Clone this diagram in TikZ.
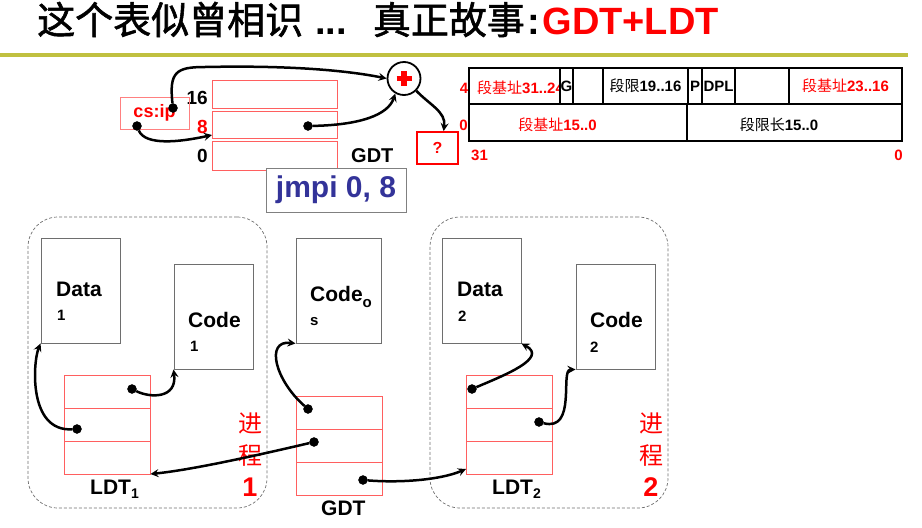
\documentclass[tikz,border=0pt]{standalone}
\usepackage{fontspec}
\setmainfont{Liberation Sans}
\newfontfamily\cjk{Noto Sans CJK SC}
\newfontfamily\cjkhead[FakeBold=1.5]{Noto Sans CJK SC}
\usetikzlibrary{arrows,calc,positioning}
\definecolor{rulecol}{RGB}{192,192,64}
\definecolor{slotred}{RGB}{255,95,95}
\definecolor{boxred}{RGB}{255,128,128}
\definecolor{memgray}{RGB}{110,110,110}
\definecolor{jmpblue}{RGB}{51,51,153}
\newcommand{\fsz}[1]{\fontsize{#1}{#1}\selectfont}
\newcommand{\seg}[2]{{\cjk #1}\textbf{#2}}

\begin{document}
\begin{tikzpicture}
      [x = 1pt, y = -1pt,
      link/.style = {-stealth, line width = 2.5pt},
      dot/.style = {
         draw,
         fill = black,
         circle,
         inner sep = 0pt,
         minimum size = 9pt
      },
      slot/.style = {
         draw = slotred,
         line width = 1pt,
         inner sep = 0pt,
         outer sep = 0pt,
         minimum width = 86pt,
         minimum height = 33pt
      },
      mem/.style = {
         draw = memgray,
         line width = 0.9pt,
         inner sep = 0pt,
         minimum width = 79pt,
         minimum height = 105pt
      },
      memtxt/.style = {anchor = base west, inner sep = 0pt, font = \bfseries\fsz{21}},
      subtxt/.style = {anchor = base west, inner sep = 0pt, font = \bfseries\fsz{15}},
      proc/.style = {
         draw = memgray,
         line width = 0.7pt,
         dash pattern = on 3pt off 2pt,
         rounded corners = 30pt,
         minimum width = 239pt,
         minimum height = 291pt
      },
      proctxt/.style = {text = red, align = center, font = \cjk\fontsize{24}{32}\selectfont},
      cell/.style = {
         draw,
         fill = white,
         line width = 1.8pt,
         inner sep = 0pt,
         outer sep = 0pt,
         minimum height = 36pt,
         font = \fsz{15}
      },
      num/.style = {text = red, inner sep = 0pt, font = \bfseries\fsz{15}}]

      \useasboundingbox (0, 0) rectangle (922, 528);

      % title
      \node[anchor = base west, inner sep = 0pt, font = \fsz{38}] (title) at (37, 34)
         {{\cjkhead 这个表似曾相识}\hspace{12pt}\textbf{...}\hspace{26pt}{\cjkhead 真正故事}\hspace{3pt}\textbf{:}\hspace{2pt}{\color{red}\bfseries GDT+LDT}};
      \fill[rulecol] (0, 53) rectangle (908, 57);

      % descriptor
      \node[cell, minimum width = 91pt] (base3) at (514.5, 86) {};
      \node[anchor = west, inner sep = 0pt, text = red, font = \fsz{15}] (base3t) at (477, 88) {\seg{段基址}{31..24}};
      \foreach \xa/\xb/\txt in {560/573/\textbf{G}, 573/603/, 603/688/\seg{段限}{19..16},
            688/702/\textbf{P}, 702/735/\textbf{DPL}, 735/789/, 789/902/{\color{red}\seg{段基址}{23..16}}}
         \node[cell, minimum width = {(\xb-\xa)*1pt}] (hi\xa) at ({(\xa+\xb)/2}, 86) {\txt};
      \node[cell, minimum width = 218pt, minimum height = 37pt] (base1) at (578, 122.5) {};
      \node[cell, minimum width = 215pt, minimum height = 37pt] (lim1) at (794.5, 122.5) {};
      \node[inner sep = 0pt, text = red, font = \fsz{15}] (base1t) at (557.5, 125) {\seg{段基址}{15..0}};
      \node[inner sep = 0pt, font = \fsz{15}] (lim1t) at (779, 125) {\seg{段限长}{15..0}};
      \node[num] (w4) at (464, 88) {4};
      \node[num] (w0) at (463.5, 125) {0};
      \node[num] (b31) at (479.5, 155.5) {31};
      \node[num] (b0) at (898.5, 155.5) {0};

      % gdt (top)
      \node[slot, minimum width = 125pt, minimum height = 28pt] (g16) at (274.5, 94) {};
      \node[slot, minimum width = 125pt, minimum height = 27pt, below = 3pt of g16] (g8) {};
      \node[slot, minimum width = 125pt, minimum height = 29pt, below = 3pt of g8] (g0) {};
      \node[anchor = base east, inner sep = 0pt, font = \bfseries\fsz{19}] (i16) at (208, 104) {16};
      \node[anchor = base east, inner sep = 0pt, text = red, font = \bfseries\fsz{19}] (i8) at (208, 133) {8};
      \node[anchor = base east, inner sep = 0pt, font = \bfseries\fsz{19}] (i0) at (208, 162) {0};
      \node[anchor = base west, inner sep = 0pt, font = \bfseries\fsz{20}] (gdttop) at (351, 162) {GDT};

      \node[draw = boxred, line width = 0.9pt, minimum width = 69pt, minimum height = 32pt,
         text = red, font = \bfseries\fsz{18}] (csip) at (154.5, 113) {cs:ip};
      \node[draw, circle, line width = 1.8pt, minimum size = 33pt] (add) at (404, 78.5) {};
      \draw[red, line width = 5.5pt] ($(add.center)+(-7.5,0)$) -- ($(add.center)+(7.5,0)$);
      \draw[red, line width = 5.5pt] ($(add.center)+(0,-7.5)$) -- ($(add.center)+(0,7.5)$);
      \node[draw = red, line width = 1.8pt, minimum width = 41pt, minimum height = 32pt,
         text = red, font = \bfseries\fsz{16}] (q) at (437.5, 148) {?};
      \node[draw = gray, line width = 1pt, fill = white, minimum width = 140pt, minimum height = 44pt,
         text = jmpblue, font = \bfseries\fsz{30}] (jmp) at (336, 190) {jmpi 0, 8};

      \node[dot] (csA) at (173, 108) {};
      \node[dot] (csB) at (137, 126) {};
      \node[dot] (g8dot) at (308, 126) {};
      \draw[link] (csA) .. controls (169, 72) and (176, 67) .. (205, 67)
         .. controls (300, 65) and (355, 72) .. (add.west);
      \draw[link] (csB) .. controls (145, 146) and (180, 142) .. ($(g8.south west)+(0,-3)$);
      \draw[link] (g8dot) .. controls (360, 125) and (388, 115) .. (add.240);
      \draw[link] (add.-45) .. controls (430, 105) and (446, 112) .. (q.70);

      % process 1
      \node[proc] (proc1) at (147.5, 362.5) {};
      \node[mem] (data1) at (80.5, 290.5) {};
      \node[mem] (code1) at (213.5, 316.5) {};
      \node[memtxt] (data1t) at (56, 296) {Data};
      \node[subtxt] (data1s) at (57, 320) {1};
      \node[memtxt] (code1t) at (188, 327) {Code};
      \node[subtxt] (code1s) at (190, 351) {1};
      \node[slot] (ldt1a) at (107.5, 391.5) {};
      \node[slot, below = 0pt of ldt1a] (ldt1b) {};
      \node[slot, below = 0pt of ldt1b] (ldt1c) {};
      \node[memtxt] (ldt1t) at (90, 494) {LDT\raisebox{-4pt}{\fsz{14}1}};
      \node[proctxt] (proc1t) at (250, 455) {进\\程\\{\rmfamily\bfseries\fsz{27}1}};

      % gdt (bottom)
      \node[mem, minimum width = 85pt] (codeos) at (338.5, 290.5) {};
      \node[memtxt] (codeost) at (310, 301) {Code\raisebox{-6pt}{\fsz{15}o}};
      \node[subtxt] (codeoss) at (310, 325) {s};
      \node[slot] (gdta) at (339, 413) {};
      \node[slot, below = 0pt of gdta] (gdtb) {};
      \node[slot, below = 0pt of gdtb] (gdtc) {};
      \node[memtxt] (gdtt) at (321, 515) {GDT};

      % process 2
      \node[proc, minimum width = 238pt] (proc2) at (549, 362.5) {};
      \node[mem] (data2) at (481.5, 290.5) {};
      \node[mem] (code2) at (615.5, 316.5) {};
      \node[memtxt] (data2t) at (457, 296) {Data};
      \node[subtxt] (data2s) at (458, 321) {2};
      \node[memtxt] (code2t) at (590, 327) {Code};
      \node[subtxt] (code2s) at (590, 352) {2};
      \node[slot] (ldt2a) at (509, 391.5) {};
      \node[slot, below = 0pt of ldt2a] (ldt2b) {};
      \node[slot, below = 0pt of ldt2b] (ldt2c) {};
      \node[memtxt] (ldt2t) at (492, 494) {LDT\raisebox{-4pt}{\fsz{14}2}};
      \node[proctxt] (proc2t) at (651, 455) {进\\程\\{\rmfamily\bfseries\fsz{27}2}};

      % links
      \node[dot] (l1a) at (132, 389) {};
      \node[dot] (l1b) at (77, 429) {};
      \node[dot] (ga) at (308, 409) {};
      \node[dot] (gb) at (314, 442) {};
      \node[dot] (gc) at (363, 480) {};
      \node[dot] (l2a) at (472, 389) {};
      \node[dot] (l2b) at (539, 422) {};
      \draw[link] (l1b) .. controls (28, 432) and (33, 362) .. (data1.south west);
      \draw[link] (l1a) .. controls (150, 398) and (177, 399) .. (code1.south west);
      \draw[link] (ga) .. controls (275, 380) and (265, 340) .. (codeos.south west);
      \draw[link] (gb) .. controls (250, 457) and (190, 470) .. (ldt1c.south east);
      \draw[link] (gc) .. controls (400, 483) and (440, 480) .. ($(ldt2c.south west)+(0,-5)$);
      \draw[link] (l2a) .. controls (505, 375) and (548, 358) .. (data2.south east);
      \draw[link] (l2b) .. controls (577, 432) and (560, 370) .. (code2.south west);

   \end{tikzpicture}
\end{document}
